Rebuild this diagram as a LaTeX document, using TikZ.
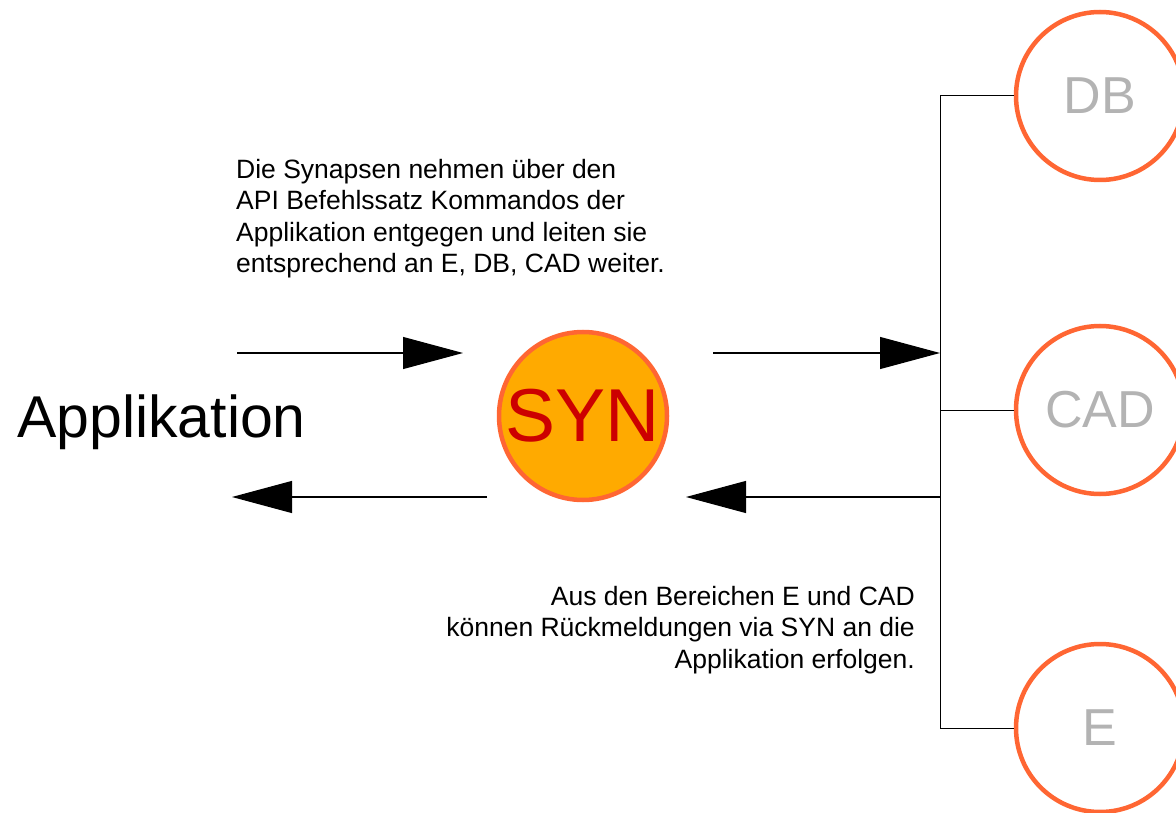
\documentclass[tikz,border=0pt]{standalone}
\usepackage{fontspec}
\setmainfont{Liberation Sans}
\usetikzlibrary{arrows.meta}
\definecolor{ringorange}{HTML}{FF6633}
\definecolor{synfill}{HTML}{FFAA00}
\definecolor{synred}{HTML}{CC0000}
\definecolor{labgray}{HTML}{B3B3B3}
\tikzset{
  ring/.style={circle, draw=ringorange, line width=4.5pt, minimum size=168pt, inner sep=0pt, font=\fontsize{52}{60}\selectfont, text=labgray},
  synring/.style={ring, fill=synfill, text=synred, font=\fontsize{75}{85}\selectfont},
  flow/.style={line width=1.1pt, -{Triangle[length=60pt,width=32pt]}},
  bus/.style={line width=1pt},
  note/.style={inner sep=0pt, font=\fontsize{26.5}{31.5}\selectfont}
}
\begin{document}
\begin{tikzpicture}[x=1pt,y=-1pt]
\useasboundingbox (0,0) rectangle (1176,813);
% nodes
\node[synring] (syn) at (583,416) {SYN};
\node[ring] (db) at (1100,96) {DB};
\node[ring] (cad) at (1100,410) {CAD};
\node[ring] (e) at (1100,728) {E};
\node[anchor=base west, inner sep=0pt, font=\fontsize{59}{70}\selectfont] (app) at (17,437) {Applikation};
\node[note, anchor=north west, align=left] (top) at (236,159) {Die Synapsen nehmen über den\\API Befehlssatz Kommandos der\\Applikation entgegen und leiten sie\\entsprechend an E, DB, CAD weiter.};
\node[note, anchor=north east, align=right] (bot) at (915,586) {Aus den Bereichen E und CAD\\können Rückmeldungen via SYN an die\\Applikation erfolgen.};
% coordinates of connector ends
\coordinate (busDB) at (940,96);
\coordinate (busCAD) at (940,410);
\coordinate (busE) at (940,728);
\coordinate (busIn) at (940,353);
\coordinate (busOut) at (940,497);
\coordinate (inStart) at (237,353);
\coordinate (inEnd) at (463,353);
\coordinate (outStart) at (713,353);
\coordinate (retEnd) at (686,497);
\coordinate (backStart) at (487,497);
\coordinate (backEnd) at (232,497);
% bus
\draw[bus] (busDB) -- (busE);
\draw[bus] (busDB) -- (db.west);
\draw[bus] (busCAD) -- (cad.west);
\draw[bus] (busE) -- (e.west);
% arrows
\draw[flow] (inStart) -- (inEnd);
\draw[flow] (outStart) -- (busIn);
\draw[flow] (busOut) -- (retEnd);
\draw[flow] (backStart) -- (backEnd);
\end{tikzpicture}
\end{document}
